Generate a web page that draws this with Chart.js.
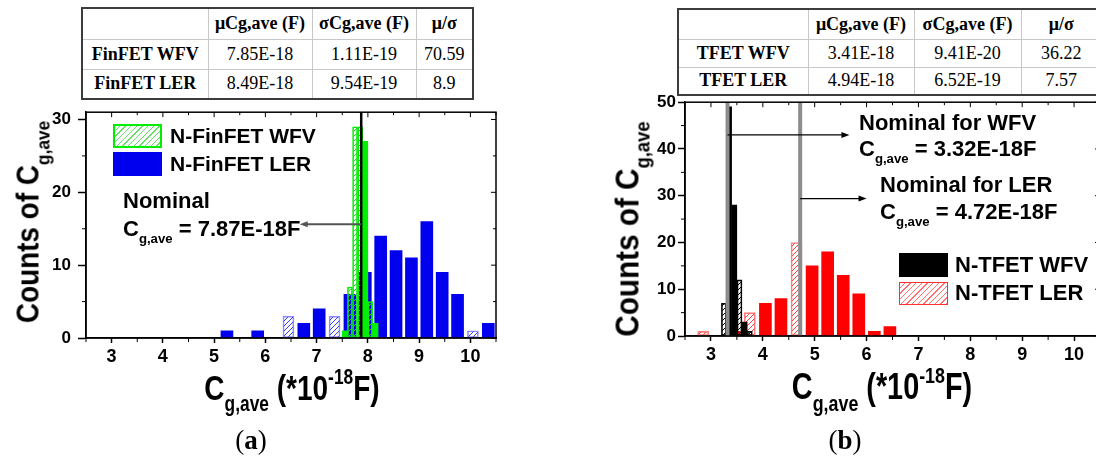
<!DOCTYPE html>
<html>
<head>
<meta charset="utf-8">
<script src="https://cdn.jsdelivr.net/npm/chart.js@4.4.1/dist/chart.umd.min.js"></script>
<style>
  body { margin: 0; width: 1096px; height: 459px; overflow: hidden; position: relative; background: #fff;
         font-family: "Liberation Sans", Arial, sans-serif; color: #000; }
  canvas { position: absolute; }
  table.stats { position: absolute; border-collapse: collapse; table-layout: fixed;
                font-family: "Liberation Serif", "Times New Roman", serif; font-size: 18px; border: 2px solid #3c3c3c; }
  table.stats td { border: 1px solid #c8c8c8; text-align: center; padding: 0; white-space: nowrap; }
  table.stats tr:first-child td, table.stats td:first-child { font-weight: bold; }
  .lbl { position: absolute; font-weight: bold; white-space: nowrap; line-height: 1; }
  .lbl sub { font-size: 0.6em; vertical-align: -0.5em; line-height: 0; }
  .ttl { position: absolute; font-weight: bold; white-space: nowrap; line-height: 1; }
  .ttl sub { font-size: 0.62em; vertical-align: -0.55em; line-height: 0; }
  .ttl sup { font-size: 0.62em; vertical-align: 0.7em; line-height: 0; }
  .sw { position: absolute; box-sizing: border-box; }
  .panel { position: absolute; font-family: "Liberation Serif", "Times New Roman", serif; font-size: 27px;
           transform: translate(-50%, -50%); }
</style>
</head>
<body>

<table class="stats" id="tabA" style="left:81px; top:7px; width:391px;"></table>
<table class="stats" id="tabB" style="left:677px; top:8px; width:424px;"></table>

<canvas id="chartA" width="530" height="290" style="left:0; top:95px;"></canvas>
<canvas id="chartB" width="560" height="295" style="left:548px; top:90px;"></canvas>

<!-- (a) legend and nominal note -->
<div class="sw" id="swFinWfv" style="left:113px; top:124px; width:49px; height:24px; border:2px solid #00ee00;"></div>
<div class="sw" style="left:113px; top:152px; width:49px; height:24px; background:#0000ee;"></div>
<div class="lbl" style="left:170px; top:125px; font-size:21px;">N-FinFET WFV</div>
<div class="lbl" style="left:170px; top:153px; font-size:21px;">N-FinFET LER</div>
<div class="lbl" style="left:123px; top:190px; font-size:22px;">Nominal</div>
<div class="lbl" id="noteFin" style="left:123px; top:218px; font-size:22px;"></div>

<!-- (b) legend and nominal notes -->
<div class="lbl" style="left:859px; top:112px; font-size:22px;">Nominal for WFV</div>
<div class="lbl" id="noteTfWfv" style="left:859px; top:138px; font-size:22px;"></div>
<div class="lbl" style="left:880px; top:174px; font-size:22px;">Nominal for LER</div>
<div class="lbl" id="noteTfLer" style="left:880px; top:201px; font-size:22px;"></div>
<div class="sw" style="left:899px; top:253px; width:49px; height:24px; background:#000;"></div>
<div class="sw" id="swTfLer" style="left:899px; top:282px; width:49px; height:23px; border:1.5px solid #ff3030;"></div>
<div class="lbl" style="left:955px; top:254px; font-size:22px;">N-TFET WFV</div>
<div class="lbl" style="left:955px; top:282px; font-size:22px;">N-TFET LER</div>

<!-- axis titles -->
<div class="ttl" style="left:28px; top:222px; font-size:31px; transform:translate(-50%,-50%) rotate(-90deg) scaleX(0.9);">Counts of C<sub>g,ave</sub></div>
<div class="ttl" style="left:292px; top:387px; font-size:35px; transform:translate(-50%,-50%) scaleX(0.8);">C<sub>g,ave</sub> (*10<sup>-18</sup>F)</div>
<div class="ttl" style="left:627px; top:229px; font-size:33px; transform:translate(-50%,-50%) rotate(-90deg) scaleX(0.9);">Counts of C<sub>g,ave</sub></div>
<div class="ttl" style="left:882px; top:387px; font-size:36px; transform:translate(-50%,-50%) scaleX(0.8);">C<sub>g,ave</sub> (*10<sup>-18</sup>F)</div>

<div class="panel" style="left:251px; top:440px;">(<b>a</b>)</div>
<div class="panel" style="left:845px; top:440px;">(<b>b</b>)</div>

<script>
// histogram bins, centres in units of 1e-18 F
// (a) FinFET, work-function variation
const finWfvSolidX = [7.55, 7.95, 8.15];
const finWfvSolidN = [1, 27, 2];
const finWfvHatchX = [7.65, 7.75, 7.85, 8.05];
const finWfvHatchN = [7, 29, 29, 5];
// (a) FinFET, line-edge roughness
const finLerSolidX = [5.25, 5.85, 6.75, 7.05, 7.65, 7.95, 8.25, 8.55, 8.85, 9.15, 9.45, 9.75, 10.35];
const finLerSolidN = [1, 1, 2, 4, 6, 9, 14, 12, 11, 16, 9, 6, 2];
const finLerHatchX = [6.45, 7.35, 10.05];
const finLerHatchN = [3, 3, 1];

// (b) TFET, work-function variation
const tfWfvSolidX = [3.35, 3.45, 3.65];
const tfWfvSolidN = [49, 28, 3];
const tfWfvHatchX = [3.25, 3.55, 3.75];
const tfWfvHatchN = [7, 12, 1];
// (b) TFET, line-edge roughness
const tfLerSolidX = [3.45, 4.05, 4.35, 4.95, 5.25, 5.55, 5.85, 6.15, 6.45];
const tfLerSolidN = [1, 7, 8, 15, 18, 13, 9, 1, 2];
const tfLerHatchX = [2.85, 3.75, 4.65];
const tfLerHatchN = [1, 5, 20];

// x tick labels (1e-18 F)
const xTicks = [3, 4, 5, 6, 7, 8, 9, 10];

// nominal Cg,ave (1e-18 F)
const finNominal = 7.87;
const tfNominalWfv = 3.32;
const tfNominalLer = 4.72;

// statistics tables
const statHead = ["", "\u03bcCg,ave (F)", "\u03c3Cg,ave (F)", "\u03bc/\u03c3"];
const finRows = ["FinFET WFV", "FinFET LER"];
const finMu = ["7.85E-18", "8.49E-18"];
const finSigma = ["1.11E-19", "9.54E-19"];
const finRatio = ["70.59", "8.9"];
const tfRows = ["TFET WFV", "TFET LER"];
const tfMu = ["3.41E-18", "4.94E-18"];
const tfSigma = ["9.41E-20", "6.52E-19"];
const tfRatio = ["36.22", "7.57"];

function fillTable(id, widths, heights, rows, mu, sigma, ratio) {
  const t = document.getElementById(id);
  const cg = document.createElement("colgroup");
  widths.forEach(w => { const c = document.createElement("col"); c.style.width = w + "px"; cg.appendChild(c); });
  t.appendChild(cg);
  const body = [statHead].concat(rows.map((r, i) => [r, mu[i], sigma[i], ratio[i]]));
  body.forEach((cells, r) => {
    const tr = t.insertRow();
    tr.style.height = heights[r] + "px";
    cells.forEach(c => { tr.insertCell().textContent = c; });
  });
}
fillTable("tabA", [126, 104, 104, 57], [31, 30, 30], finRows, finMu, finSigma, finRatio);
fillTable("tabB", [130, 106, 107, 81], [30, 28, 28], tfRows, tfMu, tfSigma, tfRatio);

const cgNote = v => `C<sub>g,ave</sub> = ${v.toFixed(2)}E-18F`;
document.getElementById("noteFin").innerHTML = cgNote(finNominal);
document.getElementById("noteTfWfv").innerHTML = cgNote(tfNominalWfv);
document.getElementById("noteTfLer").innerHTML = cgNote(tfNominalLer);

// diagonal hatch used for the patterned bars
function hatch(color) {
  const c = document.createElement("canvas");
  c.width = c.height = 5;
  const g = c.getContext("2d");
  g.strokeStyle = color;
  g.lineWidth = 1;
  g.beginPath();
  g.moveTo(-1, 6); g.lineTo(6, -1);
  g.stroke();
  return g.createPattern(c, "repeat");
}
function hatchCss(color) {
  return `repeating-linear-gradient(135deg, transparent 0 3px, ${color} 3px 4px)`;
}
document.getElementById("swFinWfv").style.background = hatchCss("#66dd66");
document.getElementById("swTfLer").style.background = hatchCss("#ff7070");

const pts = (xs, ns) => xs.map((x, i) => ({ x: x, y: ns[i] }));

// box frame, minor ticks and inward ticks on top/right
const frame = {
  id: "frame",
  afterDraw(chart) {
    const { ctx, chartArea: a, scales: { x, y } } = chart;
    ctx.save();
    ctx.strokeStyle = "#000";
    ctx.lineWidth = 1.5;
    ctx.strokeRect(a.left, a.top, a.right - a.left, a.bottom - a.top);
    ctx.lineWidth = 1;
    ctx.beginPath();
    for (let v = Math.ceil(x.min * 2) / 2; v <= x.max + 1e-9; v += 0.5) {
      const px = x.getPixelForValue(v);
      const major = Math.abs(v - Math.round(v)) < 1e-6;
      if (!major) { ctx.moveTo(px, a.bottom); ctx.lineTo(px, a.bottom + 4); }
      ctx.moveTo(px, a.top); ctx.lineTo(px, a.top + (major ? 5 : 3));
    }
    const yStep = chart.options.scales.y.ticks.stepSize / 2;
    for (let v = 0; v <= y.max + 1e-9; v += yStep) {
      const py = y.getPixelForValue(v);
      const major = Math.round(v / yStep) % 2 === 0;
      if (!major) { ctx.moveTo(a.left, py); ctx.lineTo(a.left - 4, py); }
      ctx.moveTo(a.right, py); ctx.lineTo(a.right - (major ? 5 : 3), py);
    }
    ctx.stroke();
    ctx.restore();
  }
};

// nominal value markers and their pointer arrows
const nominal = {
  id: "nominal",
  afterDatasetsDraw(chart, args, o) {
    const { ctx, chartArea: a, scales: { x, y } } = chart;
    ctx.save();
    o.lines.forEach(l => {
      const px = x.getPixelForValue(l.x);
      ctx.strokeStyle = l.color;
      ctx.lineWidth = l.width;
      ctx.beginPath();
      ctx.moveTo(px, a.top);
      ctx.lineTo(px, a.bottom);
      ctx.stroke();
    });
    o.arrows.forEach(ar => {
      const x0 = x.getPixelForValue(ar.from), x1 = x.getPixelForValue(ar.to), py = y.getPixelForValue(ar.y);
      const dir = Math.sign(x1 - x0);
      ctx.strokeStyle = ar.color;
      ctx.fillStyle = ar.color;
      ctx.lineWidth = ar.width;
      ctx.beginPath();
      ctx.moveTo(x0, py);
      ctx.lineTo(x1 - dir * 6, py);
      ctx.stroke();
      ctx.beginPath();
      ctx.moveTo(x1, py);
      ctx.lineTo(x1 - dir * 8, py - 3);
      ctx.lineTo(x1 - dir * 8, py + 3);
      ctx.closePath();
      ctx.fill();
    });
    ctx.restore();
  }
};

const tickFont = { family: '"Liberation Sans", Arial, sans-serif', size: 18, weight: "bold" };

function axes(yMax, yAxisWidth, xAxisHeight, yTick, yPad) {
  return {
    x: {
      type: "linear", min: 2.5, max: 10.5, offset: false,
      afterBuildTicks: s => { s.ticks = xTicks.map(v => ({ value: v })); },
      ticks: { autoSkip: false, maxRotation: 0, padding: 3, color: "#000", font: tickFont },
      grid: { drawOnChartArea: false, offset: false, tickLength: 5, tickWidth: 1.5, tickColor: "#000" },
      border: { color: "#000", width: 1.5 },
      afterFit: s => { s.height = xAxisHeight; }
    },
    y: {
      min: 0, max: yMax,
      ticks: { stepSize: 10, includeBounds: false, padding: yPad, color: "#000", font: { ...tickFont, size: 17 } },
      grid: { drawOnChartArea: false, tickLength: yTick, tickWidth: 1.5, tickColor: "#000" },
      border: { color: "#000", width: 1.5 },
      afterFit: s => { s.width = yAxisWidth; }
    }
  };
}

new Chart(document.getElementById("chartA"), {
  type: "bar",
  data: {
    datasets: [
      { data: pts(finWfvHatchX, finWfvHatchN), backgroundColor: hatch("#33cc33"), borderColor: "#00ee00",
        borderWidth: 1, borderSkipped: false, barThickness: 5, grouped: false },
      { data: pts(finWfvSolidX, finWfvSolidN), backgroundColor: "#00ee00", barThickness: 5, grouped: false },
      { data: pts(finLerHatchX, finLerHatchN), backgroundColor: hatch("#3a3aff"), borderColor: "#8f8fff",
        borderWidth: 1, borderSkipped: false, barThickness: 11, grouped: false },
      { data: pts(finLerSolidX, finLerSolidN), backgroundColor: "#0000ee", barThickness: 12, grouped: false }
    ]
  },
  options: {
    responsive: false,
    animation: false,
    layout: { padding: { top: 10, right: 34, left: 0, bottom: 0 } },
    plugins: {
      legend: { display: false },
      tooltip: { enabled: false },
      nominal: {
        lines: [{ x: finNominal, color: "#000", width: 2.5 }],
        arrows: [{ from: finNominal, to: 6.67, y: 15.6, color: "#555", width: 2 }]
      }
    },
    scales: axes(31, 86, 47, 8, 7)
  },
  plugins: [nominal, frame]
});

new Chart(document.getElementById("chartB"), {
  type: "bar",
  data: {
    datasets: [
      { data: pts(tfWfvHatchX, tfWfvHatchN), backgroundColor: hatch("#000"), borderColor: "#000",
        borderWidth: 1, borderSkipped: false, barThickness: 5, grouped: false },
      { data: pts(tfWfvSolidX, tfWfvSolidN), backgroundColor: "#000", barThickness: 5, grouped: false },
      { data: pts(tfLerHatchX, tfLerHatchN), backgroundColor: hatch("#ff4040"), borderColor: "#ff8080",
        borderWidth: 1, borderSkipped: false, barThickness: 11, grouped: false },
      { data: pts(tfLerSolidX, tfLerSolidN), backgroundColor: "#ff0000", barThickness: 12, grouped: false }
    ]
  },
  options: {
    responsive: false,
    animation: false,
    layout: { padding: { top: 10, right: 8, left: 0, bottom: 0 } },
    plugins: {
      legend: { display: false },
      tooltip: { enabled: false },
      nominal: {
        lines: [
          { x: tfNominalWfv, color: "#8c8c8c", width: 4 },
          { x: tfNominalLer, color: "#8c8c8c", width: 4 }
        ],
        arrows: [
          { from: tfNominalWfv, to: 5.67, y: 43, color: "#000", width: 1.3 },
          { from: tfNominalLer, to: 6.0, y: 29.4, color: "#000", width: 1.3 }
        ]
      }
    },
    scales: axes(50, 137, 49, 7, 2)
  },
  plugins: [nominal, frame]
});
</script>
</body>
</html>
